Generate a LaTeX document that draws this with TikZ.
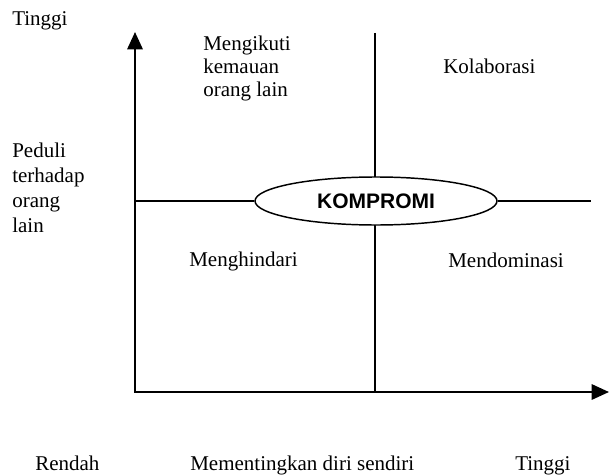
\documentclass[tikz,border=0pt]{standalone}
\usepackage{fontspec}
\setmainfont{Liberation Serif}
\newfontfamily\headfont{Liberation Sans}
\usepackage{tikz}
\usetikzlibrary{shapes.geometric,arrows.meta,positioning}

\begin{document}
\begin{tikzpicture}[x=0.75pt, y=-0.75pt,
    txt/.style={inner sep=0pt, anchor=base west, align=left, font=\fontsize{15.75}{17.3}\selectfont},
    axis/.style={line width=1.6pt, line join=miter, {Triangle[length=13pt,width=11.5pt]}-{Triangle[length=13pt,width=11.5pt]}},
    divider/.style={line width=1pt}]
    \useasboundingbox (0,0) rectangle (609,474);
    \coordinate (ytop) at (135,32);
    \coordinate (origin) at (135,392);
    \coordinate (xend) at (609,392);
    \coordinate (midtop) at (375,33);
    \coordinate (midbot) at (375,392);
    \coordinate (leftend) at (135,201);
    \coordinate (rightend) at (591,201);
    \draw [axis] (ytop) -- (origin) -- (xend);
    \draw [divider] (midtop) -- (midbot);
    \node [draw, ellipse, fill=white, line width=1.1pt, inner sep=0pt, minimum width=181.5pt, minimum height=36pt,
        font=\headfont\bfseries\fontsize{15.75}{17}\selectfont] (kompromi) at (376,201) {KOMPROMI};
    \draw [divider] (leftend) -- (kompromi.west);
    \draw [divider] (kompromi.east) -- (rightend);

    \node [txt] (tinggiY) at (12,26) {Tinggi};
    \node [txt] (peduli) at (12,232) {Peduli\\[1.3pt]terhadap\\[1.3pt]orang\\[1.3pt]lain};
    \node [txt] (ikut) at (203,97) {Mengikuti\\kemauan\\orang lain};
    \node [txt] (kolab) at (443,74) {Kolaborasi};
    \node [txt] (hindar) at (189,266) {Menghindari};
    \node [txt] (dominasi) at (448,267) {Mendominasi};
    \node [txt] (rendah) at (35,470) {Rendah};
    \node [txt] (diri) at (190,470) {Mementingkan diri sendiri};
    \node [txt] (tinggiX) at (515,470) {Tinggi};
\end{tikzpicture}
\end{document}
